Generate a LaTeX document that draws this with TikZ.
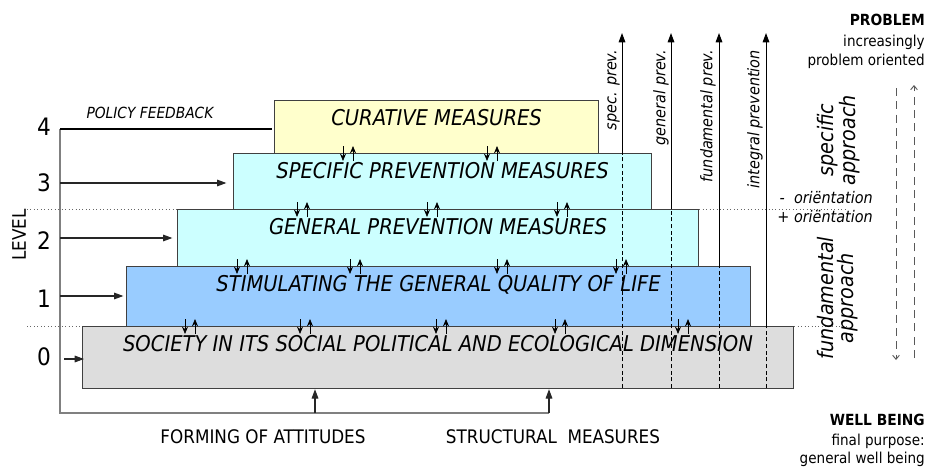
\documentclass[tikz,border=0pt]{standalone}
\usepackage{fontspec}
\setmainfont{DejaVu Sans Condensed}
\usetikzlibrary{arrows.meta}
\definecolor{curfill}{HTML}{FFFFCC}
\definecolor{prevfill}{HTML}{CCFFFF}
\definecolor{stimfill}{HTML}{99CCFF}
\definecolor{socfill}{HTML}{DDDDDD}
\definecolor{edgecol}{HTML}{404040}
\definecolor{guidecol}{HTML}{808080}
\begin{document}
\begin{tikzpicture}[x=0.75pt,y=-0.75pt,
  layer/.style={draw=edgecol, line width=0.9pt, inner sep=0pt, anchor=north west,
    text height=18.75pt, font=\fontsize{16.3}{18}\selectfont\itshape},
  pair/.style={-{Stealth[length=5.5pt,width=4.5pt]}, line width=0.6pt},
  levelarr/.style={-{Triangle[length=7pt,width=5pt]}, line width=0.8pt, draw=black!85, fill=black!85},
  guideline/.style={draw=guidecol, line width=1.1pt},
  prevarr/.style={-{Triangle[length=7pt,width=5pt]}, line width=0.75pt},
  prevdash/.style={dashed, dash pattern=on 3pt off 2pt, line width=0.6pt},
  trend/.style={draw=black!65, line width=0.7pt, dash pattern=on 6pt off 4pt, -{Straight Barb[length=3pt,width=5pt]}},
  dotline/.style={draw=black!60, line width=0.6pt, dotted},
  vlabel/.style={rotate=90, anchor=south east, inner sep=0pt, font=\fontsize{12}{14}\selectfont\itshape},
  levelnum/.style={font=\fontsize{18}{20}\selectfont},
  righttext/.style={anchor=base east, inner sep=0pt, font=\fontsize{11.3}{13}\selectfont},
  approach/.style={rotate=90, align=center, inner sep=0pt, font=\fontsize{16}{15}\selectfont\itshape},
  orient/.style={anchor=base east, inner sep=0pt, font=\fontsize{12}{14}\selectfont\itshape},
  bottomtext/.style={font=\fontsize{14}{16}\selectfont},
]
\useasboundingbox (0,0) rectangle (934,471);

% dotted separators
\coordinate (dl1) at (27,209);
\coordinate (dl2) at (27,326);
\coordinate (dr1) at (847,209);
\coordinate (dr2) at (847,326);

% pyramid layers
\node[layer, fill=socfill, minimum width=533.25pt, text depth=27.75pt] (soc) at (82,326)
  {SOCIETY IN ITS SOCIAL POLITICAL AND ECOLOGICAL DIMENSION};
\node[layer, fill=stimfill, minimum width=468pt, text depth=26.25pt] (stim) at (126,266)
  {STIMULATING THE GENERAL QUALITY OF LIFE};
\node[layer, fill=prevfill, minimum width=390.75pt, text depth=24pt] (gen) at (177,209)
  {GENERAL PREVENTION MEASURES};
\node[layer, fill=prevfill, minimum width=313.5pt, text depth=23.25pt] (spec) at (233,153)
  {SPECIFIC PREVENTION MEASURES};
\node[layer, fill=curfill, minimum width=243pt, text depth=21pt] (cur) at (274,100)
  {CURATIVE MEASURES};

\draw[dotline] (dl1) -- (gen.north west);
\draw[dotline] (gen.north east) -- (dr1);
\draw[dotline] (dl2) -- (soc.north west);
\draw[dotline] (soc.north east) -- (dr2);

% interaction arrow pairs
\foreach \x in {343,487} {
  \draw[pair] (\x,146) -- (\x,161); \draw[pair] (\x+10,161) -- (\x+10,146);}
\foreach \x in {297,427,557} {
  \draw[pair] (\x,202) -- (\x,217); \draw[pair] (\x+10,217) -- (\x+10,202);}
\foreach \x in {237,350,497,616} {
  \draw[pair] (\x,259) -- (\x,274); \draw[pair] (\x+10,274) -- (\x+10,259);}
\foreach \x in {185,300,436,555,678} {
  \draw[pair] (\x,319) -- (\x,334); \draw[pair] (\x+10,334) -- (\x+10,319);}

% left level axis
\node[rotate=90, font=\fontsize{14}{16}\selectfont] (level) at (19,235) {LEVEL};
\node[levelnum] (l4) at (44,127) {4};
\node[levelnum] (l3) at (44,183) {3};
\node[levelnum] (l2) at (44,241) {2};
\node[levelnum] (l1) at (44,299) {1};
\node[levelnum] (l0) at (44,357) {0};

\coordinate (fb) at (60,129);
\coordinate (corner) at (60,413);
\coordinate (att) at (315,413);
\coordinate (str) at (549,413);
\draw[guideline] (fb) -- (corner) -- (str);
\draw[line width=1.4pt] (fb) -- ([xshift=-1.5pt]cur.west |- fb);
\node[font=\fontsize{11.5}{13}\selectfont\itshape] (pf) at (150,113) {POLICY FEEDBACK};

\coordinate (a3) at (60,183);
\coordinate (a2) at (60,238);
\coordinate (a1) at (60,296);
\coordinate (a0) at (64,359);
\draw[levelarr, shorten >=5pt] (a3) -- (spec.west |- a3);
\draw[levelarr, shorten >=3.5pt] (a2) -- (gen.west |- a2);
\draw[levelarr, shorten >=2pt] (a1) -- (stim.west |- a1);
\draw[levelarr] (a0) -- ([xshift=1.5pt]soc.west |- a0);

\draw[levelarr] (att) -- (att |- soc.south);
\draw[levelarr] (str) -- (str |- soc.south);
\node[bottomtext] (forming) at (263,437) {FORMING OF ATTITUDES};
\node[bottomtext] (structural) at (553,437) {STRUCTURAL\ \ MEASURES};

% prevention lines
\coordinate (p1b) at (622,388); \coordinate (p1t) at (622,33);
\coordinate (p2b) at (671,388); \coordinate (p2t) at (671,33);
\coordinate (p3b) at (719,388); \coordinate (p3t) at (719,33);
\coordinate (p4b) at (766,388); \coordinate (p4t) at (766,33);
\draw[prevdash] (p1b) -- (p1b |- spec.north);
\draw[prevarr] (p1b |- spec.north) -- (p1t);
\draw[prevdash] (p2b) -- (p2b |- gen.north);
\draw[prevarr] (p2b |- gen.north) -- (p2t);
\draw[prevdash] (p3b) -- (p3b |- stim.north);
\draw[prevarr] (p3b |- stim.north) -- (p3t);
\draw[prevdash] (p4b) -- (p4b |- soc.north);
\draw[prevarr] (p4b |- soc.north) -- (p4t);
\node[vlabel] (v1) at (620,50) {spec. prev.};
\node[vlabel] (v2) at (669,50) {general prev.};
\node[vlabel] (v3) at (716,50) {fundamental prev.};
\node[vlabel] (v4) at (763,50) {integral prevention};

% right side
\node[righttext, font=\fontsize{11.5}{13}\selectfont\bfseries] (prob) at (925,26) {PROBLEM};
\node[righttext] (inc) at (925,46) {increasingly};
\node[righttext] (po) at (925,65) {problem oriented};
\node[righttext, font=\fontsize{11.5}{13}\selectfont\bfseries] (wb) at (925,425) {WELL BEING};
\node[righttext] (fp) at (925,445) {final purpose:};
\node[righttext] (gwb) at (925,463) {general well being};

\node[approach] (specapp) at (839,140) {specific\\approach};
\node[approach] (fundapp) at (838,298) {fundamental\\approach};
\node[orient] (omin) at (873,203) {-\ \ oriëntation};
\node[orient] (oplus) at (873,222) {+ oriëntation};

\coordinate (t1s) at (896,88); \coordinate (t1e) at (896,360);
\coordinate (t2s) at (914,358); \coordinate (t2e) at (914,85);
\draw[trend] (t1s) -- (t1e);
\draw[trend] (t2s) -- (t2e);
\end{tikzpicture}
\end{document}
